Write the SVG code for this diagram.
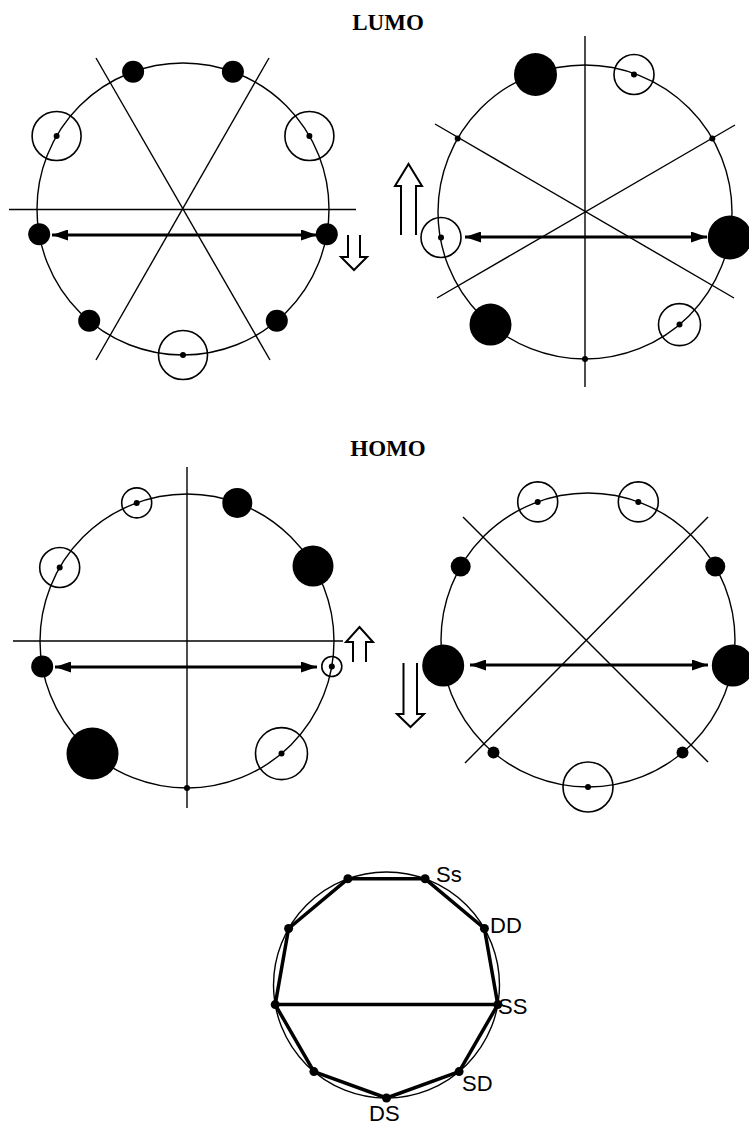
<svg xmlns="http://www.w3.org/2000/svg" width="749" height="1127" viewBox="0 0 749 1127">
<style>
.ring{fill:none;stroke:#000;stroke-width:1.4}
.ln{stroke:#000;stroke-width:1.4;fill:none}
.f{fill:#000}
.o{fill:none;stroke:#000;stroke-width:1.6}
.d{fill:#000}
.ha{fill:none;stroke:#000;stroke-width:2;stroke-linejoin:miter}
.da{stroke:#000;stroke-width:3.2;fill:none;marker-start:url(#ah);marker-end:url(#ah)}
.title{font-family:"Liberation Serif","Times New Roman",serif;font-weight:bold;font-size:23px;text-anchor:middle}
.lab{font-family:"Liberation Sans",Arial,sans-serif;font-size:22px}
.poly{fill:none;stroke:#000;stroke-width:3.5;stroke-linejoin:round}
</style>
<defs>
<marker id="ah" markerUnits="userSpaceOnUse" markerWidth="16" markerHeight="11" refX="16" refY="5.5" orient="auto-start-reverse" viewBox="0 0 16 11">
<path d="M0,0 L16,5.5 L0,11 z" fill="#000"/>
</marker>
</defs>
<rect width="749" height="1127" fill="#fff"/>

<text class="title" x="388" y="30">LUMO</text>
<text class="title" x="388" y="456">HOMO</text>

<g id="lumo-left">
<circle class="ring" cx="183" cy="209" r="146"/>
<line class="ln" x1="9" y1="209.5" x2="356" y2="209.5"/>
<line class="ln" x1="96" y1="58" x2="270" y2="360"/>
<line class="ln" x1="269" y1="58" x2="96" y2="360"/>
<circle class="o" cx="183" cy="355" r="24.5"/><circle class="d" cx="183" cy="355" r="3"/>
<circle class="f" cx="89.2" cy="320.8" r="11"/>
<circle class="f" cx="39.2" cy="234.3" r="11"/>
<circle class="o" cx="56.6" cy="136" r="24.5"/><circle class="d" cx="56.6" cy="136" r="3"/>
<circle class="f" cx="133.1" cy="71.8" r="11"/>
<circle class="f" cx="232.9" cy="71.8" r="11"/>
<circle class="o" cx="309.4" cy="136" r="24.5"/><circle class="d" cx="309.4" cy="136" r="3"/>
<circle class="f" cx="326.8" cy="234.3" r="11"/>
<circle class="f" cx="276.8" cy="320.8" r="11"/>
<polyline class="ha" points="348,235 348,257 341,257 354,270 367,257 360,257 360,235"/>
</g>

<g id="lumo-right">
<circle class="ring" cx="585" cy="212" r="147"/>
<line class="ln" x1="585" y1="36" x2="585" y2="387"/>
<line class="ln" x1="435" y1="124" x2="734" y2="298"/>
<line class="ln" x1="437" y1="298" x2="735" y2="125"/>
<circle class="d" cx="585" cy="359" r="3"/>
<circle class="f" cx="490.5" cy="324.6" r="21"/>
<circle class="o" cx="441" cy="237.5" r="20"/><circle class="d" cx="441" cy="237.5" r="3"/>
<circle class="d" cx="457.7" cy="138.5" r="3"/>
<circle class="f" cx="535.5" cy="74.5" r="21.5"/>
<circle class="o" cx="634" cy="74.5" r="20"/><circle class="d" cx="634" cy="74.5" r="3"/>
<circle class="d" cx="712.3" cy="138.5" r="3"/>
<circle class="f" cx="729.8" cy="237.5" r="22"/>
<circle class="o" cx="679.5" cy="324.6" r="21"/><circle class="d" cx="679.5" cy="324.6" r="3"/>
<polyline class="ha" points="401,235 401,186 395,186 408.5,164 422,186 416,186 416,235"/>
</g>

<g id="homo-left">
<circle class="ring" cx="187" cy="641" r="147"/>
<line class="ln" x1="187" y1="467" x2="187" y2="808"/>
<line class="ln" x1="13" y1="641" x2="343" y2="641"/>
<circle class="d" cx="187" cy="788" r="3"/>
<circle class="f" cx="92.5" cy="753.6" r="26"/>
<circle class="f" cx="42.2" cy="666.5" r="11"/>
<circle class="o" cx="59.7" cy="567.5" r="20"/><circle class="d" cx="59.7" cy="567.5" r="3"/>
<circle class="o" cx="136.7" cy="502.9" r="15"/><circle class="d" cx="136.7" cy="502.9" r="3"/>
<circle class="f" cx="237.3" cy="502.9" r="15"/>
<circle class="f" cx="313" cy="566" r="20.5"/>
<circle class="o" cx="331.8" cy="666.5" r="10"/><circle class="d" cx="331.8" cy="666.5" r="3"/>
<circle class="o" cx="281.5" cy="753.6" r="26"/><circle class="d" cx="281.5" cy="753.6" r="3"/>
<polyline class="ha" points="353,662 353,642 346,642 359.5,627 373,642 366,642 366,662"/>
</g>

<g id="homo-right">
<circle class="ring" cx="588" cy="640" r="147"/>
<line class="ln" x1="463" y1="517" x2="708" y2="762"/>
<line class="ln" x1="708" y1="517" x2="465" y2="763"/>
<circle class="o" cx="588" cy="787" r="25"/><circle class="d" cx="588" cy="787" r="3"/>
<circle class="f" cx="493.5" cy="752.6" r="6"/>
<circle class="f" cx="443.2" cy="665.5" r="21"/>
<circle class="f" cx="460.7" cy="566.5" r="10"/>
<circle class="o" cx="537.7" cy="501.9" r="20"/><circle class="d" cx="537.7" cy="501.9" r="3"/>
<circle class="o" cx="638.3" cy="501.9" r="20"/><circle class="d" cx="638.3" cy="501.9" r="3"/>
<circle class="f" cx="715.3" cy="566.5" r="10"/>
<circle class="f" cx="732.8" cy="665.5" r="21"/>
<circle class="f" cx="682.5" cy="752.6" r="6"/>
<polyline class="ha" points="403.5,663 403.5,714 397,714 410.5,727 424,714 417,714 417,663"/>
</g>

<g id="correlation">
<circle class="ring" cx="386.5" cy="985" r="113" stroke-width="1.2"/>
<polygon class="poly" points="386.5,1098 313.9,1071.6 275.2,1004.6 288.6,928.5 347.9,878.8 425.1,878.8 484.4,928.5 497.8,1004.6 459.1,1071.6"/>
<line class="poly" x1="275.2" y1="1004.6" x2="497.8" y2="1004.6"/>
<g class="d">
<circle cx="386.5" cy="1098" r="4.5"/><circle cx="313.9" cy="1071.6" r="4.5"/><circle cx="275.2" cy="1004.6" r="4.5"/>
<circle cx="288.6" cy="928.5" r="4.5"/><circle cx="347.9" cy="878.8" r="4.5"/><circle cx="425.1" cy="878.8" r="4.5"/>
<circle cx="484.4" cy="928.5" r="4.5"/><circle cx="497.8" cy="1004.6" r="4.5"/><circle cx="459.1" cy="1071.6" r="4.5"/>
</g>
<text class="lab" x="436" y="882">Ss</text>
<text class="lab" x="490" y="933">DD</text>
<text class="lab" x="498" y="1014">SS</text>
<text class="lab" x="462" y="1091">SD</text>
<text class="lab" x="369" y="1121">DS</text>
</g>

<g id="connectors">
<line class="da" x1="52" y1="235" x2="317" y2="235"/>
<line class="da" x1="465" y1="237" x2="707" y2="237"/>
<line class="da" x1="55" y1="667" x2="317" y2="667"/>
<line class="da" x1="470" y1="665" x2="708" y2="665"/>
</g>
</svg>
